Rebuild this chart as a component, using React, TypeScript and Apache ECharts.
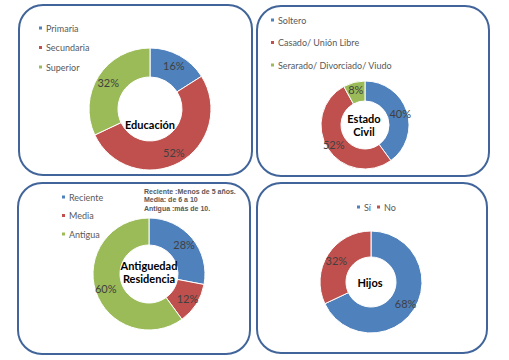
import React, { useEffect, useRef } from "react";
import * as echarts from "echarts";

const eduNames = ["Primaria", "Secundaria", "Superior"];
const eduValues = [16, 52, 32];
const civilNames = ["Soltero", "Casado/ Unión Libre", "Serarado/ Divorciado/ Viudo"];
const civilValues = [40, 52, 8];
const resNames = ["Reciente", "Media", "Antigua"];
const resValues = [28, 12, 60];
const hijosNames = ["Sí", "No"];
const hijosValues = [68, 32];
const colors = ["#4F81BD", "#C0504D", "#9BBB59"];
const noteLines = ["Reciente :Menos de 5 años.", "Media: de 6 a 10", "Antigua :más de 10."];

const FONT = "Lato, 'Open Sans', sans-serif";

function mkData(names: string[], values: number[]) {
  return names.map((n, i) => ({ name: n, value: values[i], itemStyle: { color: colors[i] } }));
}

function pie(names: string[], values: number[], center: number[], radius: number[]) {
  return {
    type: "pie",
    center,
    radius,
    startAngle: 90,
    clockwise: true,
    avoidLabelOverlap: false,
    itemStyle: { borderColor: "#ffffff", borderWidth: 1 },
    label: {
      show: true,
      position: "inside",
      formatter: (p: any) => p.value + "%",
      color: "#404040",
      fontSize: 11,
      fontFamily: FONT,
    },
    labelLine: { show: false },
    emphasis: { disabled: true },
    data: mkData(names, values),
  };
}

function legend(names: string[], left: number, top: number, gap: number, orient: string) {
  return {
    data: names,
    orient,
    left,
    top,
    padding: 0,
    itemGap: gap,
    itemWidth: 5,
    itemHeight: 5,
    icon: "rect",
    selectedMode: false,
    textStyle: { fontSize: 9, color: "#595959", fontFamily: FONT, lineHeight: 12, padding: [0, 0, 0, -2] },
  };
}

function box(x: number, y: number, w: number, h: number) {
  return {
    type: "rect",
    shape: { x, y, width: w, height: h, r: 24 },
    style: { fill: "#ffffff", stroke: "#41659A", lineWidth: 2 },
    z: -10,
  };
}

function title(x: number, y: number, text: string) {
  return {
    type: "text",
    x,
    y,
    z: 10,
    style: {
      text,
      fill: "#000000",
      font: "bold 11px " + FONT,
      align: "center",
      verticalAlign: "middle",
      lineHeight: 13,
    },
  };
}

export default function App() {
  const ref = useRef<HTMLDivElement>(null);
  useEffect(() => {
    const chart = echarts.init(ref.current!, null, { renderer: "svg" });
    chart.setOption({
      animation: false,
      backgroundColor: "#ffffff",
      legend: [
        legend(eduNames, 37, 22, 7.5, "vertical"),
        legend(civilNames, 269, 14, 10.5, "vertical"),
        legend(resNames, 60, 191, 6.5, "vertical"),
        legend(hijosNames, 355, 201, 4, "horizontal"),
      ],
      series: [
        pie(eduNames, eduValues, [150, 109], [32, 61]),
        pie(civilNames, civilValues, [365, 125], [24, 44]),
        pie(resNames, resValues, [149, 274], [29, 56]),
        pie(hijosNames, hijosValues, [371, 282], [25, 51]),
      ],
      graphic: [
        box(19, 5, 233, 170),
        box(257, 6, 232, 170),
        box(18, 183, 232, 171),
        box(257, 183, 230, 170),
        title(150, 124, "Educación"),
        title(364, 125, "Estado\nCivil"),
        title(149, 272, "Antiguedad\nResidencia"),
        title(370, 282, "Hijos"),
        {
          type: "text",
          x: 144,
          y: 187,
          z: 10,
          style: {
            text: noteLines.join("\n"),
            fill: "#595959",
            font: "bold 7px 'Liberation Sans', Arial, sans-serif",
            lineHeight: 8.5,
          },
        },
      ],
    });
    return () => chart.dispose();
  }, []);
  return <div ref={ref} style={{ position: "absolute", left: 0, top: 0, width: 509, height: 360 }} />;
}
